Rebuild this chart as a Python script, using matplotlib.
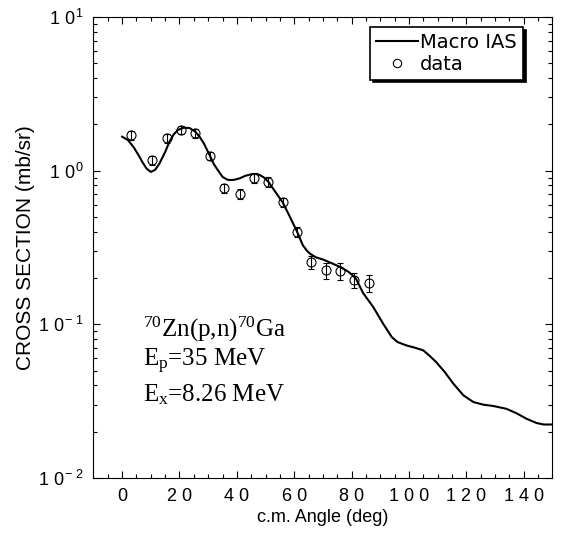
import matplotlib
matplotlib.use("Agg")
import matplotlib.pyplot as plt
from matplotlib.lines import Line2D
from matplotlib.ticker import MultipleLocator, FixedLocator, FixedFormatter

plt.rcParams['font.family'] = ['Liberation Sans', 'DejaVu Sans']

# Macro IAS calculation
curve_angle = [0, 2, 4, 5.5, 7, 8.5, 10, 11.5, 13, 15, 16.5, 18, 19.5, 21.5,
               23.5, 25.5, 27, 28.5, 30.5, 32, 33, 35, 36.5, 37.5, 39, 41, 43,
               45.5, 47, 48, 49.5, 51, 53, 56, 58.5, 61, 63, 64.5, 65.5, 67.5,
               70, 73, 76, 79, 81.5, 84, 87.5, 91, 94, 96, 99, 102, 105, 107,
               109.5, 112.5, 115.5, 119, 122.5, 126, 129.5, 134, 137.5, 141,
               144.5, 147, 150]
curve_xs = [1.66, 1.58, 1.42, 1.28, 1.14, 1.03, 0.98, 1.01, 1.11, 1.32, 1.54,
            1.72, 1.84, 1.90, 1.89, 1.79, 1.66, 1.50, 1.26, 1.10, 1.03, 0.91,
            0.875, 0.867, 0.87, 0.89, 0.925, 0.95, 0.95, 0.935, 0.90, 0.845,
            0.746, 0.62, 0.50, 0.40, 0.327, 0.30, 0.288, 0.273, 0.264, 0.250,
            0.236, 0.219, 0.199, 0.160, 0.130, 0.101, 0.0827, 0.0767, 0.073,
            0.0705, 0.0677, 0.0629, 0.0568, 0.0489, 0.0411, 0.0345, 0.0312,
            0.030, 0.0294, 0.0282, 0.0264, 0.0243, 0.0228, 0.0223, 0.0223]

# measured points
data_angle = [3, 10.5, 15.5, 20.5, 25.5, 30.5, 35.5, 41, 46, 51, 56, 61, 66,
              71, 76, 81, 86]
data_xs = [1.70, 1.17, 1.62, 1.84, 1.75, 1.25, 0.766, 0.703, 0.89, 0.845,
           0.621, 0.399, 0.255, 0.225, 0.222, 0.194, 0.186]
data_err = [0.12, 0.08, 0.11, 0.12, 0.12, 0.08, 0.05, 0.05, 0.06, 0.06, 0.04,
            0.03, 0.025, 0.027, 0.028, 0.022, 0.023]

yticks = [1e-2, 1e-1, 1e0, 1e1]
ytick_labels = [r'$\mathregular{1\ 0^{-\ 2}}$', r'$\mathregular{1\ 0^{-\ 1}}$',
                r'$\mathregular{1\ 0^{0}}$', r'$\mathregular{1\ 0^{1}}$']
xticks = [0, 20, 40, 60, 80, 100, 120, 140]
xtick_labels = ['0', '2 0', '4 0', '6 0', '8 0', '1 0 0', '1 2 0', '1 4 0']

fig = plt.figure(figsize=(5.63, 5.42), dpi=100)
ax = fig.add_axes([0.166, 0.118, 0.815, 0.851])

ax.plot(curve_angle, curve_xs, color='k', lw=1.5)
ax.errorbar(data_angle, data_xs, yerr=data_err, fmt='o', ms=6.5, mfc='none',
            mec='k', mew=0.8, ecolor='k', elinewidth=0.8, capsize=2.5,
            capthick=0.8)

ax.set_yscale('log')
ax.set_xlim(-10, 150)
ax.set_ylim(1e-2, 1e1)

ax.xaxis.set_major_locator(FixedLocator(xticks))
ax.xaxis.set_major_formatter(FixedFormatter(xtick_labels))
ax.xaxis.set_minor_locator(MultipleLocator(5))
ax.yaxis.set_major_locator(FixedLocator(yticks))
ax.yaxis.set_major_formatter(FixedFormatter(ytick_labels))

ax.tick_params(which='both', direction='in', top=True, right=True,
               width=0.8, labelsize=13)
ax.tick_params(which='major', length=5, pad=7)
ax.tick_params(which='minor', length=2.7)
for s in ax.spines.values():
    s.set_linewidth(0.8)

ax.set_xlabel('c.m. Angle (deg)', fontsize=13, labelpad=3)
ax.set_ylabel('CROSS SECTION (mb/sr)', fontsize=15, labelpad=2)

handles = [Line2D([], [], color='k', lw=1.5),
           Line2D([], [], ls='none', marker='o', ms=6, mfc='none', mec='k',
                  mew=0.8)]
leg = ax.legend(handles, ['Macro IAS', 'data'], loc='upper right',
                bbox_to_anchor=(0.936, 0.978),
                borderaxespad=0, fancybox=False, edgecolor='k',
                shadow={'color': 'k', 'alpha': 1}, framealpha=1,
                prop={'family': 'DejaVu Sans', 'size': 14},
                handlelength=2.2, handletextpad=0.1, labelspacing=0.15,
                borderpad=0.3)
leg.get_frame().set_linewidth(1.2)

serif = {'family': 'Liberation Serif', 'size': 18}
ax.text(0.108, 0.306, r'$\mathregular{^{70}}$Zn(p,n)$\mathregular{^{70}}$Ga',
        transform=ax.transAxes, va='baseline', fontdict=serif)
ax.text(0.108, 0.243, r'E$\mathregular{_{p}}$=35 MeV',
        transform=ax.transAxes, va='baseline', fontdict=serif)
ax.text(0.108, 0.167, r'E$\mathregular{_{x}}$=8.26 MeV',
        transform=ax.transAxes, va='baseline', fontdict=serif)

fig.savefig('out.png', dpi=100)
